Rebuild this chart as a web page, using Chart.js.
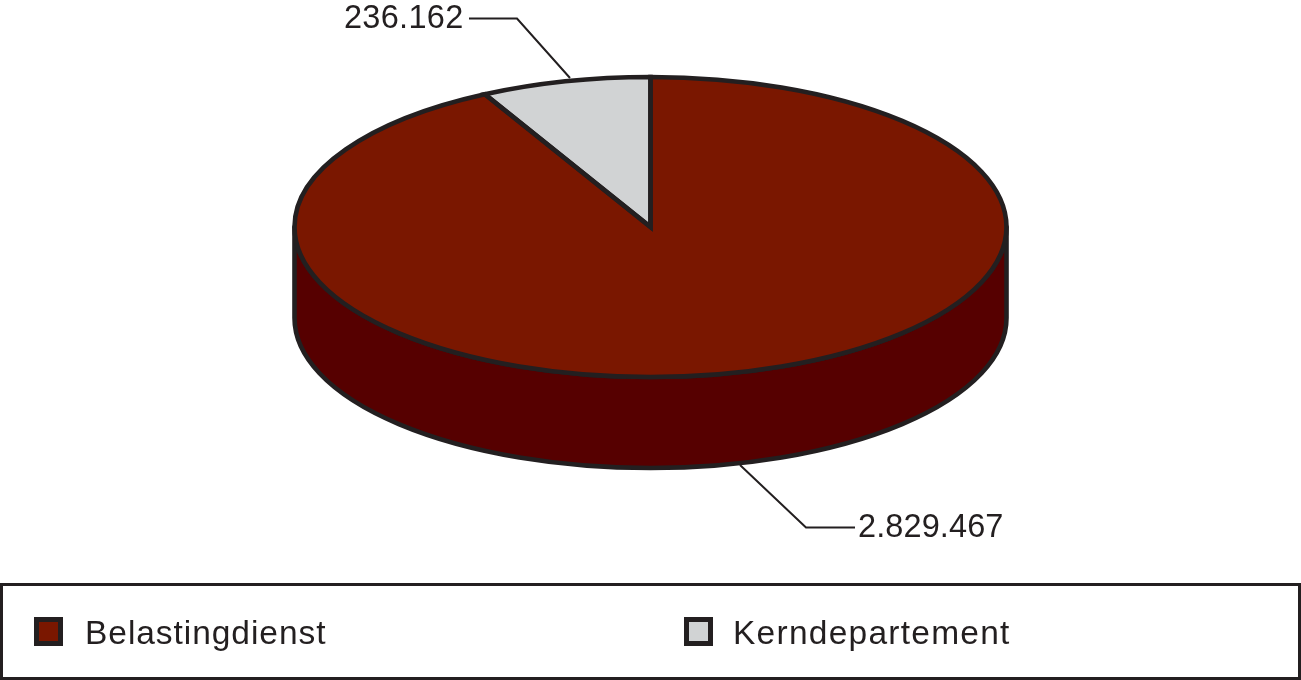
<!DOCTYPE html>
<html>
<head>
<meta charset="utf-8">
<title>Belastingdienst / Kerndepartement</title>
<style>
  html, body { margin: 0; padding: 0; background: #fff; overflow: hidden; }
  canvas { display: block; }
</style>
<script src="https://cdn.jsdelivr.net/npm/chart.js@4/dist/chart.umd.js"></script>
</head>
<body>
<canvas id="pie" width="1301" height="680"></canvas>
<script>
const categories = ["Belastingdienst", "Kerndepartement"];
const values = [2829467, 236162];
const valueLabels = ["2.829.467", "236.162"];
const topColors = ["#7a1700", "#d1d3d4"];
const sideColors = ["#560000", "#a7a9ac"];

const ink = "#231f20";
const radiusX = 356;
const depth = 91;
const outline = 4.6;

// leader lines from the pie to the value labels
const leaders = [
  { pts: [[740, 465], [806, 527.5], [855, 527.5]], x: 858, y: 537, spacing: "0.1px" },
  { pts: [[570, 78], [517, 18.5], [469, 18.5]], x: 344, y: 28, spacing: "0.3px" },
];
const legendItems = [
  { box: 34, text: 85, spacing: "0.95px" },
  { box: 684, text: 733, spacing: "1.25px" },
];

function drawText(ctx, text, x, y, size, spacing) {
  ctx.font = size + 'px "Liberation Sans", Arial, sans-serif';
  ctx.letterSpacing = spacing;
  ctx.fillStyle = ink;
  ctx.textAlign = "left";
  ctx.textBaseline = "alphabetic";
  ctx.fillText(text, x, y);
  ctx.letterSpacing = "0px";
}

const pie3d = {
  id: "pie3d",
  beforeDatasetsDraw(chart) {
    const ctx = chart.ctx;
    const arcs = chart.getDatasetMeta(0).data;
    const { x: cx, y: cy, outerRadius: ry } = arcs[0];

    // side wall, only the part of each slice facing the viewer
    ctx.save();
    ctx.strokeStyle = ink;
    ctx.lineWidth = outline;
    ctx.lineJoin = "round";
    arcs.forEach((arc, i) => {
      const from = Math.max(arc.startAngle, 0);
      const to = Math.min(arc.endAngle, Math.PI);
      if (to <= from) return;
      ctx.beginPath();
      ctx.ellipse(cx, cy, radiusX, ry, 0, from, to);
      ctx.ellipse(cx, cy + depth, radiusX, ry, 0, to, from, true);
      ctx.closePath();
      ctx.fillStyle = sideColors[i];
      ctx.fill();
      ctx.stroke();
    });
    ctx.restore();

    // squash the round pie into the top ellipse
    ctx.save();
    ctx.translate(cx, cy);
    ctx.scale(radiusX / ry, 1);
    ctx.translate(-cx, -cy);
  },
  afterDatasetsDraw(chart) {
    const ctx = chart.ctx;
    ctx.restore();
    const arcs = chart.getDatasetMeta(0).data;

    ctx.save();
    ctx.strokeStyle = ink;
    ctx.lineWidth = outline;
    ctx.lineJoin = "miter";
    arcs.forEach((arc) => {
      ctx.beginPath();
      ctx.moveTo(arc.x, arc.y);
      ctx.ellipse(arc.x, arc.y, radiusX, arc.outerRadius, 0, arc.startAngle, arc.endAngle);
      ctx.closePath();
      ctx.stroke();
    });

    ctx.lineWidth = 2;
    leaders.forEach((l, i) => {
      ctx.beginPath();
      l.pts.forEach((p, j) => (j ? ctx.lineTo(p[0], p[1]) : ctx.moveTo(p[0], p[1])));
      ctx.stroke();
      drawText(ctx, valueLabels[i], l.x, l.y, 32.5, l.spacing);
    });

    // legend box
    ctx.lineWidth = 3;
    ctx.strokeRect(1.5, 584.5, 1298, 94);
    legendItems.forEach((item, i) => {
      ctx.fillStyle = topColors[i];
      ctx.lineWidth = 5;
      ctx.fillRect(item.box + 2.5, 619.5, 24, 24);
      ctx.strokeRect(item.box + 2.5, 619.5, 24, 24);
      drawText(ctx, categories[i], item.text, 644, 33.5, item.spacing);
    });
    ctx.restore();
  },
};

new Chart(document.getElementById("pie"), {
  type: "pie",
  data: {
    labels: categories,
    datasets: [{
      data: values,
      backgroundColor: topColors,
      borderWidth: 0,
      clip: false,
    }],
  },
  options: {
    responsive: false,
    animation: false,
    events: [],
    layout: { padding: { top: 77, bottom: 303, left: 0, right: 0 } },
    plugins: { legend: { display: false }, tooltip: { enabled: false } },
  },
  plugins: [pie3d],
});
</script>
</body>
</html>
